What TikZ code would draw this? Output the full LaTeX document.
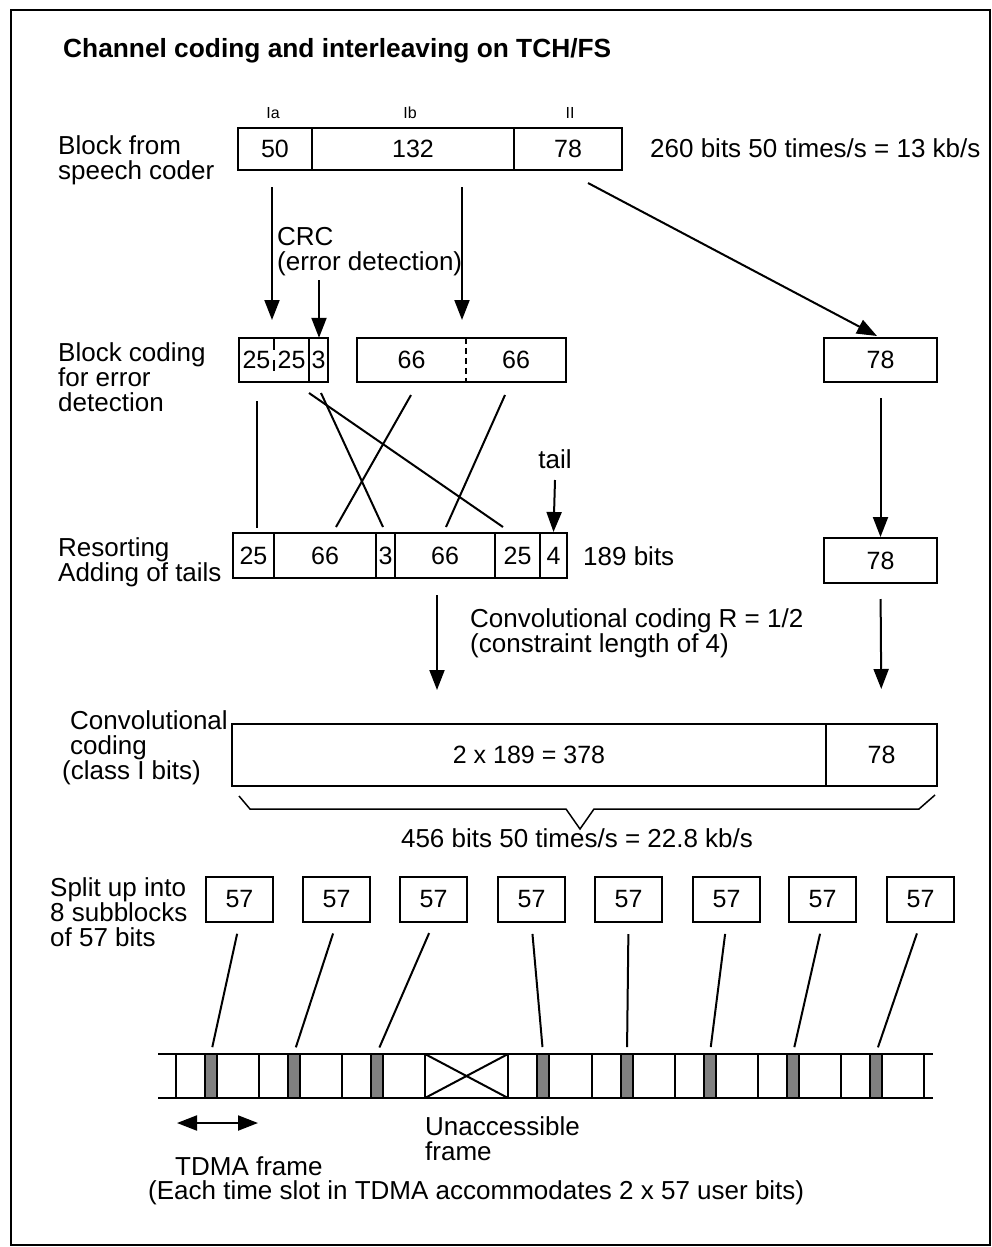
\documentclass[tikz,border=0pt]{standalone}
\usepackage{fontspec}
\setmainfont{Liberation Sans}
\usetikzlibrary{arrows.meta}
\newcommand\mycell[7][cell]{\node[#1, minimum width={(#5-#3)*1pt}, minimum height={(#6-#4)*1pt}] (#2) at ({(#3+#5)/2},{(#4+#6)/2}) {#7};}
\begin{document}
\begin{tikzpicture}[x=1pt,y=-1pt]
\tikzset{
 cell/.style={draw, line width=2pt, inner sep=0pt, font=\fontsize{25}{25}\selectfont},
 blank/.style={inner sep=0pt, font=\fontsize{25}{25}\selectfont},
 lbl/.style={inner sep=0pt, anchor=base west, font=\fontsize{26}{25}\selectfont},
 clbl/.style={inner sep=0pt, anchor=base, font=\fontsize{26}{25}\selectfont},
 small/.style={inner sep=0pt, anchor=base, font=\fontsize{16}{16}\selectfont},
 conn/.style={line width=2pt},
 arr/.style={line width=2pt, -{Triangle[width=15pt,length=20pt]}},
 darr/.style={line width=2pt, {Triangle[width=15pt,length=20pt]}-{Triangle[width=15pt,length=20pt]}},
 slot/.style={draw, line width=2pt, fill=gray, inner sep=0pt, minimum width=12pt, minimum height=44pt},
 brace/.style={line width=1.5pt},
}
\useasboundingbox (0,0) rectangle (992,1247);
\fill[white] (0,0) rectangle (992,1247);
\draw[line width=2pt] (11,10) rectangle (990,1245);

\node[anchor=base west, inner sep=0pt, font=\bfseries\fontsize{26.3}{26}\selectfont] (title) at (63,58) {Channel coding and interleaving on TCH/FS};

% ---- top block
\node[small] (lia) at (273,118) {Ia};
\node[small] (lib) at (410,118) {Ib};
\node[small] (lii) at (570,118) {II};
\mycell{ia}{238}{128}{312}{170}{50}
\mycell{ib}{312}{128}{514}{170}{132}
\mycell{ii}{514}{128}{622}{170}{78}
\node[lbl] (t1a) at (58,154) {Block from};
\node[lbl] (t1b) at (58,179) {speech coder};
\node[lbl] (rate1) at (650,157) {260 bits 50 times/s = 13 kb/s};

% ---- block coding row
\mycell[blank]{c25a}{239}{338}{274}{382}{25}
\mycell[blank]{c25b}{274}{338}{309}{382}{25}
\mycell[blank]{c3}{309}{338}{328}{382}{3}
\draw[line width=2pt] (c25a.north west) rectangle (c3.south east);
\draw[line width=2pt] (c3.north west) -- (c3.south west);
\draw[line width=2pt] (c25a.north east) -- ++(0,12);
\draw[line width=2pt] ([yshift=-22pt]c25a.north east) -- ++(0,11);
\mycell[blank]{c66a}{357}{338}{466}{382}{66}
\mycell[blank]{c66b}{466}{338}{566}{382}{66}
\draw[line width=2pt] (c66a.north west) rectangle (c66b.south east);
\draw[line width=2pt, dash pattern=on 6pt off 4pt] (c66a.north east) -- (c66a.south east);
\mycell{r78a}{824}{338}{937}{382}{78}
\node[lbl] (t2a) at (58,361) {Block coding};
\node[lbl] (t2b) at (58,386) {for error};
\node[lbl] (t2c) at (58,411) {detection};
\node[lbl] (crc1) at (277,245) {CRC};
\node[lbl] (crc2) at (277,270) {(error detection)};

% arrows top -> block coding
\coordinate (a1s) at (272,187); \coordinate (a1e) at (272,320);
\coordinate (a2s) at (319,280);
\coordinate (a3s) at (462,187); \coordinate (a3e) at (462,320);
\coordinate (a4s) at (588,183); \coordinate (a4e) at (877,336);
\draw[arr] (a1s) -- (a1e);
\draw[arr] (a2s) -- (a2s |- c3.north);
\draw[arr] (a3s) -- (a3e);
\draw[arr] (a4s) -- (a4e);

% ---- resorting row
\mycell{s25a}{233}{533}{274}{578}{25}
\mycell{s66a}{274}{533}{376}{578}{66}
\mycell{s3}{376}{533}{395}{578}{3}
\mycell{s66b}{395}{533}{495}{578}{66}
\mycell{s25b}{495}{533}{540}{578}{25}
\mycell{s4}{540}{533}{567}{578}{4}
\mycell{r78b}{824}{538}{937}{583}{78}
\node[lbl] (t3a) at (58,556) {Resorting};
\node[lbl] (t3b) at (58,581) {Adding of tails};
\node[lbl] (bits189) at (583,565) {189 bits};
\node[clbl] (tail) at (555,468) {tail};

% crossing lines
\coordinate (x1s) at (257,401); \coordinate (x1e) at (257,528);
\coordinate (x2s) at (309,393); \coordinate (x2e) at (503,527);
\coordinate (x3s) at (321,393); \coordinate (x3e) at (383,527);
\coordinate (x4s) at (411,395); \coordinate (x4e) at (336,527);
\coordinate (x5s) at (505,395); \coordinate (x5e) at (446,527);
\draw[conn] (x1s) -- (x1e);
\draw[conn] (x2s) -- (x2e);
\draw[conn] (x3s) -- (x3e);
\draw[conn] (x4s) -- (x4e);
\draw[conn] (x5s) -- (x5e);
\draw[arr] (tail.south |- 0,480) -- (s4.north);
\draw[arr, shorten <=15pt] (r78a.south) -- (r78b.north);

% ---- convolutional
\node[lbl] (cc1) at (470,627) {Convolutional coding R = 1/2};
\node[lbl] (cc2) at (470,652) {(constraint length of 4)};
\mycell{conv}{232}{724}{826}{786}{2 x 189 = 378}
\mycell{conv78}{826}{724}{937}{786}{78}
\coordinate (a7s) at (437,595); \coordinate (a7e) at (437,690);
\draw[arr] (a7s) -- (a7e);
\draw[arr, shorten <=15pt, shorten >=34pt] (r78b.south) -- (conv78.north);
\node[lbl] (t4a) at (70,729) {Convolutional};
\node[lbl] (t4b) at (70,754) {coding};
\node[lbl] (t4c) at (62,779) {(class I bits)};
\draw[brace] (239,796) -- (250,809) -- (566,809) -- (580,829) -- (594,809) -- (919,809) -- (935,795);
\node[clbl] (rate2) at (577,847) {456 bits 50 times/s = 22.8 kb/s};

% ---- split up
\node[lbl] (t5a) at (50,896) {Split up into};
\node[lbl] (t5b) at (50,921) {8 subblocks};
\node[lbl] (t5c) at (50,946) {of 57 bits};
\foreach \i/\x in {1/206,2/303,3/400,4/498,5/595,6/693,7/789,8/887}{
  \mycell{b\i}{\x}{877}{\x+67}{922}{57}
}

% ---- TDMA strip
\draw[conn] (158,1054) -- (933,1054);
\draw[conn] (158,1098) -- (933,1098);
\foreach \d in {176,259,342,425,508,592,675,758,841,924}{
  \draw[conn] (\d,1054) -- (\d,1098);
}
\foreach \i/\d in {1/176,2/259,3/342,4/508,5/592,6/675,7/758,8/841}{
  \node[slot] (g\i) at (\d+35,1076) {};
}
\draw[conn] (425,1054) -- (508,1098);
\draw[conn] (425,1098) -- (508,1054);
\foreach \i in {1,...,8}{
  \draw[conn, shorten <=11pt, shorten >=6pt] (b\i.south) -- (g\i.north);
}
\coordinate (fl) at (177,1123); \coordinate (fr) at (258,1123);
\draw[darr] (fl) -- (fr);
\node[lbl] (tdma) at (175,1175) {TDMA frame};
\node[lbl] (un1) at (425,1135) {Unaccessible};
\node[lbl] (un2) at (425,1160) {frame};
\node[lbl] (each) at (148,1199) {(Each time slot in TDMA accommodates 2 x 57 user bits)};
\end{tikzpicture}
\end{document}
